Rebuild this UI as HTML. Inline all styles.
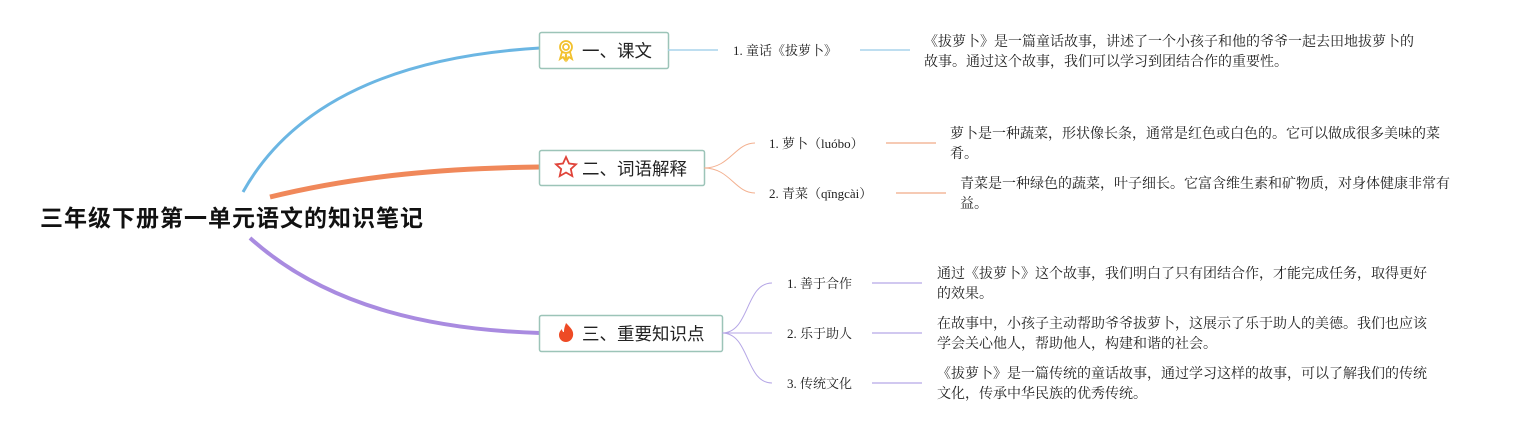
<!DOCTYPE html>
<html><head><meta charset="utf-8"><style>
body{margin:0;background:#fff;width:1521px;height:433px;overflow:hidden}
svg text{font-family:"Liberation Serif","Noto Serif CJK SC","Noto Sans CJK SC",serif}
.s{font-family:"Liberation Sans","Noto Sans CJK SC",sans-serif}
</style></head><body>
<svg width="1521" height="433" viewBox="0 0 1521 433">
<path d="M243,192 C300,90 420,55 540,48" stroke="#6bb6e3" stroke-width="3" fill="none"/>
<path d="M270,197 C360,175 450,168 540,167" stroke="#f0885a" stroke-width="5" fill="none"/>
<path d="M250,238 C330,310 440,330 540,333" stroke="#a98be0" stroke-width="4" fill="none"/>
<text class="s" x="40" y="226" font-size="23" font-weight="bold" fill="#111" textLength="383">三年级下册第一单元语文的知识笔记</text>
<rect x="539.5" y="32.5" width="129" height="36" rx="2" fill="#fff" stroke="#9cc4b8" stroke-width="1.5"/>
<rect x="539.5" y="150.5" width="165" height="35" rx="2" fill="#fff" stroke="#9cc4b8" stroke-width="1.5"/>
<rect x="539.5" y="315.5" width="183" height="36" rx="2" fill="#fff" stroke="#9cc4b8" stroke-width="1.5"/>
<g fill="none" stroke="#f2c12e" stroke-width="1.8"><circle cx="566" cy="47" r="6"/><circle cx="566" cy="47" r="3"/><path d="M562,52 l-2,7 3,-2 2,3 1,-6 M570,52 l2,7 -3,-2 -2,3 -1,-6"/></g>
<path d="M566,157 l3,6.5 7,0.8 -5.2,4.8 1.5,7 -6.3,-3.6 -6.3,3.6 1.5,-7 -5.2,-4.8 7,-0.8z" fill="none" stroke="#e0443a" stroke-width="1.8"/>
<path d="M566,323 c5,5 8,8 7,13 c-1,4 -4,6 -7,6 c-4,0 -7,-3 -7,-7 c0,-3 2,-5 3,-6 c0,2 1,3 2,3 c0,-4 1,-6 2,-9z" fill="#ee4a25"/>
<text class="s" x="582" y="57" font-size="17.5" fill="#222">一、课文</text>
<text class="s" x="582" y="175" font-size="17.5" fill="#222">二、词语解释</text>
<text class="s" x="582" y="340" font-size="17.5" fill="#222">三、重要知识点</text>
<line x1="668" y1="50" x2="718" y2="50" stroke="#a9d3ec" stroke-width="1.5"/>
<text x="733" y="55" font-size="13" fill="#222">1. 童话《拔萝卜》</text>
<line x1="860" y1="50" x2="910" y2="50" stroke="#a9d3ec" stroke-width="1.5"/>
<g class="s" font-size="14" fill="#222">
<text x="924" y="46">《拔萝卜》是一篇童话故事，讲述了一个小孩子和他的爷爷一起去田地拔萝卜的</text><text x="924" y="66">故事。通过这个故事，我们可以学习到团结合作的重要性。</text>
<text x="950" y="138">萝卜是一种蔬菜，形状像长条，通常是红色或白色的。它可以做成很多美味的菜</text><text x="950" y="158">肴。</text>
<text x="960" y="188">青菜是一种绿色的蔬菜，叶子细长。它富含维生素和矿物质，对身体健康非常有</text><text x="960" y="208">益。</text>
<text x="937" y="278">通过《拔萝卜》这个故事，我们明白了只有团结合作，才能完成任务，取得更好</text><text x="937" y="298">的效果。</text>
<text x="937" y="328">在故事中，小孩子主动帮助爷爷拔萝卜，这展示了乐于助人的美德。我们也应该</text><text x="937" y="348">学会关心他人，帮助他人，构建和谐的社会。</text>
<text x="937" y="378">《拔萝卜》是一篇传统的童话故事，通过学习这样的故事，可以了解我们的传统</text><text x="937" y="398">文化，传承中华民族的优秀传统。</text>
</g>
<path d="M704,168 C730,168 735,143 755,143 M704,168 C730,168 735,193 755,193" stroke="#f3b08f" stroke-width="1" fill="none"/>
<text x="769" y="148" font-size="13" fill="#222">1. 萝卜（luóbo）</text>
<text x="769" y="198" font-size="13" fill="#222">2. 青菜（qīngcài）</text>
<line x1="886" y1="143" x2="936" y2="143" stroke="#f3b89c" stroke-width="1.5"/>
<line x1="896" y1="193" x2="946" y2="193" stroke="#f3b89c" stroke-width="1.5"/>
<path d="M722,333 C750,333 745,283 772,283 M722,333 L772,333 M722,333 C750,333 745,383 772,383" stroke="#b5a6e6" stroke-width="1" fill="none"/>
<text x="787" y="288" font-size="13" fill="#222">1. 善于合作</text>
<text x="787" y="338" font-size="13" fill="#222">2. 乐于助人</text>
<text x="787" y="388" font-size="13" fill="#222">3. 传统文化</text>
<g stroke="#c2b6ec" stroke-width="1.5"><line x1="872" y1="283" x2="922" y2="283"/><line x1="872" y1="333" x2="922" y2="333"/><line x1="872" y1="383" x2="922" y2="383"/></g>
</svg>
</body></html>
